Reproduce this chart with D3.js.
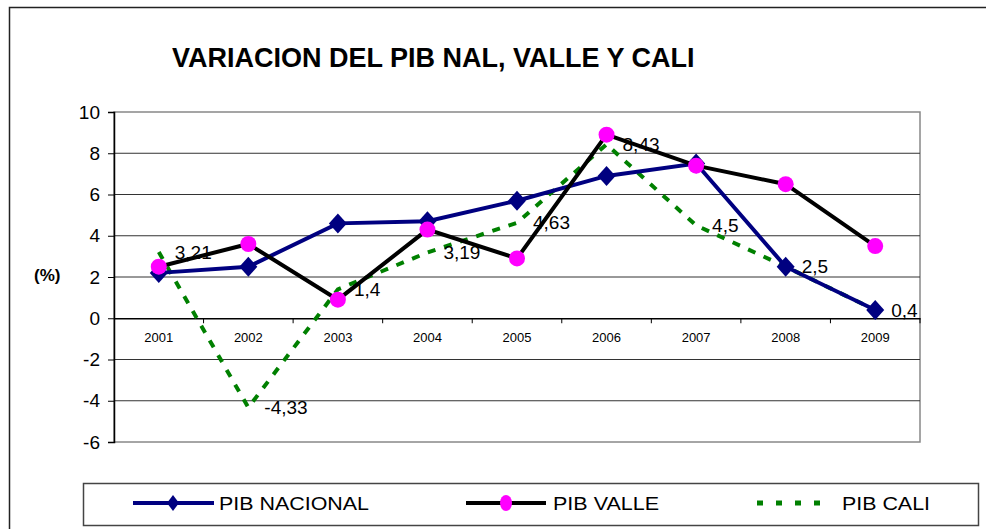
<!DOCTYPE html>
<html>
<head>
<meta charset="utf-8">
<script src="https://cdn.jsdelivr.net/npm/d3@7"></script>
<style>
  body { margin: 0; background: #fff; }
  svg text { font-family: "Liberation Sans", Arial, sans-serif; }
</style>
</head>
<body>
<div id="chart"></div>
<script>
var years = ["2001", "2002", "2003", "2004", "2005", "2006", "2007", "2008", "2009"];
var pibNacional = [2.2, 2.5, 4.6, 4.7, 5.7, 6.9, 7.5, 2.5, 0.4];
var pibValle = [2.5, 3.6, 0.9, 4.3, 2.9, 8.9, 7.4, 6.5, 3.5];
var pibCali = [3.21, -4.33, 1.4, 3.19, 4.63, 8.43, 4.5, 2.5, 0.4];
var yTicks = [-6, -4, -2, 0, 2, 4, 6, 8, 10];
var seriesNames = ["PIB NACIONAL", "PIB VALLE", "PIB CALI"];

var width = 986, height = 529;
var plotLeft = 114, plotRight = 920, plotTop = 112, plotBottom = 442;

var svg = d3.select("#chart").append("svg")
    .attr("width", width)
    .attr("height", height);

// outer frame
svg.append("rect")
    .attr("x", 9.5).attr("y", 7.5)
    .attr("width", 1000).attr("height", 600)
    .attr("fill", "none").attr("stroke", "#222").attr("stroke-width", 1.5);

svg.append("text")
    .attr("x", 172).attr("y", 67)
    .attr("font-size", 27).attr("font-weight", "bold")
    .text("VARIACION DEL PIB NAL, VALLE Y CALI");

var x = d3.scaleBand().domain(years).range([plotLeft, plotRight]);
var y = d3.scaleLinear().domain([-6, 10]).range([plotBottom, plotTop]);
var cx = function(d, i) { return x(years[i]) + x.bandwidth() / 2; };

// plot area border
svg.append("rect")
    .attr("x", plotLeft).attr("y", plotTop)
    .attr("width", plotRight - plotLeft).attr("height", plotBottom - plotTop)
    .attr("fill", "none").attr("stroke", "#888").attr("stroke-width", 1.5);

// gridlines
svg.append("g").selectAll("line")
    .data(yTicks.filter(function(d) { return d != -6 && d != 10 && d != 0; }))
    .enter().append("line")
    .attr("x1", plotLeft).attr("x2", plotRight)
    .attr("y1", function(d) { return y(d); })
    .attr("y2", function(d) { return y(d); })
    .attr("stroke", "#333").attr("stroke-width", 1);

// y axis
var yAxis = svg.append("g")
    .attr("transform", "translate(" + plotLeft + ",0)")
    .call(d3.axisLeft(y).tickValues(yTicks).tickSize(6).tickPadding(8)
        .tickFormat(function(d) { return String(d); }));
yAxis.select(".domain").attr("stroke", "#000").attr("stroke-width", 1.5);
yAxis.selectAll(".tick line").attr("stroke", "#000");
yAxis.selectAll("text").attr("font-size", 19).attr("fill", "#000")
    .attr("font-family", "Liberation Sans, Arial, sans-serif");

// zero line with category ticks
var xAxis = svg.append("g")
    .attr("transform", "translate(0," + y(0) + ")")
    .call(d3.axisBottom(x).tickSize(0).tickPadding(15));
xAxis.select(".domain").attr("stroke", "#000").attr("stroke-width", 1.5);
xAxis.selectAll("text").attr("font-size", 13).attr("fill", "#000")
    .attr("font-family", "Liberation Sans, Arial, sans-serif");
xAxis.selectAll(".sep")
    .data(years.slice(1).concat(["end"]))
    .enter().append("line")
    .attr("x1", function(d, i) { return plotLeft + x.step() * (i + 1); })
    .attr("x2", function(d, i) { return plotLeft + x.step() * (i + 1); })
    .attr("y1", 0).attr("y2", 5)
    .attr("stroke", "#000");

svg.append("text")
    .attr("x", 34).attr("y", y(2) - 2)
    .attr("dy", ".35em")
    .attr("font-size", 17).attr("font-weight", "bold")
    .text("(%)");

var line = d3.line()
    .x(cx)
    .y(function(d) { return y(d); });

// PIB CALI (dashed green)
svg.append("path")
    .attr("d", line(pibCali))
    .attr("fill", "none").attr("stroke", "#008000")
    .attr("stroke-width", 4).attr("stroke-dasharray", "8,9");

// PIB NACIONAL
svg.append("path")
    .attr("d", line(pibNacional))
    .attr("fill", "none").attr("stroke", "#000080").attr("stroke-width", 4);
svg.append("g").selectAll("path")
    .data(pibNacional)
    .enter().append("path")
    .attr("d", "M0,-10L9,0L0,10L-9,0Z")
    .attr("transform", function(d, i) { return "translate(" + cx(d, i) + "," + y(d) + ")"; })
    .attr("fill", "#000080");

// PIB VALLE
svg.append("path")
    .attr("d", line(pibValle))
    .attr("fill", "none").attr("stroke", "#000").attr("stroke-width", 4);
svg.append("g").selectAll("circle")
    .data(pibValle)
    .enter().append("circle")
    .attr("cx", cx)
    .attr("cy", function(d) { return y(d); })
    .attr("r", 8)
    .attr("fill", "#ff00ff");

// data labels for CALI
svg.append("g").selectAll("text")
    .data(pibCali)
    .enter().append("text")
    .attr("x", function(d, i) { return cx(d, i) + 16; })
    .attr("y", function(d) { return y(d); })
    .attr("dy", ".35em")
    .attr("font-size", 19)
    .text(function(d) { return String(d).replace(".", ","); });

// legend
var legend = svg.append("g");
legend.append("rect")
    .attr("x", 83.5).attr("y", 483.5)
    .attr("width", 895).attr("height", 42)
    .attr("fill", "#fff").attr("stroke", "#444").attr("stroke-width", 1.5);

var legX = [133, 466, 757];
var legY = 503;
legend.append("line")
    .attr("x1", legX[0]).attr("x2", legX[0] + 81)
    .attr("y1", legY).attr("y2", legY)
    .attr("stroke", "#000080").attr("stroke-width", 4);
legend.append("path")
    .attr("d", "M0,-8L6,0L0,8L-6,0Z")
    .attr("transform", "translate(" + (legX[0] + 40) + "," + legY + ")")
    .attr("fill", "#000080");
legend.append("line")
    .attr("x1", legX[1]).attr("x2", legX[1] + 80)
    .attr("y1", legY).attr("y2", legY)
    .attr("stroke", "#000").attr("stroke-width", 4);
legend.append("ellipse")
    .attr("cx", legX[1] + 40).attr("cy", legY)
    .attr("rx", 6).attr("ry", 8)
    .attr("fill", "#ff00ff");
legend.append("line")
    .attr("x1", legX[2]).attr("x2", legX[2] + 72)
    .attr("y1", legY).attr("y2", legY)
    .attr("stroke", "#008000").attr("stroke-width", 5)
    .attr("stroke-dasharray", "6,13");

var legTextX = [219, 553, 842], legTextW = [150, 106, 88];
legend.selectAll(".lt")
    .data(seriesNames)
    .enter().append("text")
    .attr("x", function(d, i) { return legTextX[i]; })
    .attr("y", legY)
    .attr("dy", ".36em")
    .attr("font-size", 19)
    .attr("textLength", function(d, i) { return legTextW[i]; })
    .attr("lengthAdjust", "spacingAndGlyphs")
    .text(function(d) { return d; });
</script>
</body>
</html>
